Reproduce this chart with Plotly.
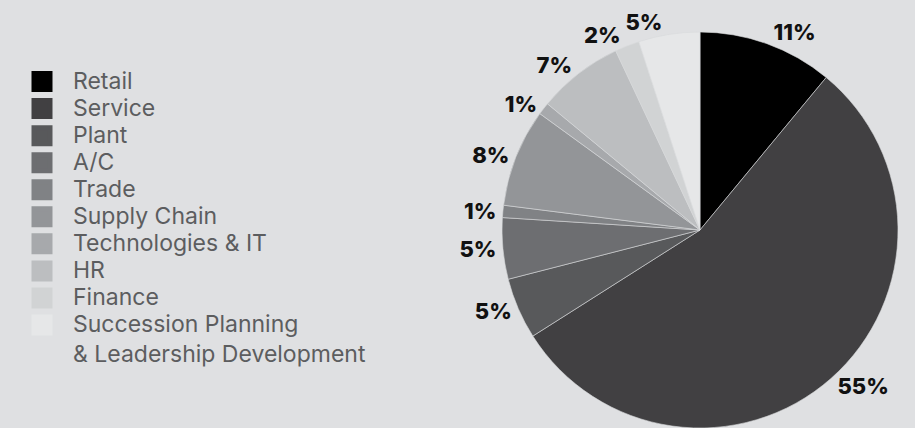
import plotly.graph_objects as go

# Headcount split by business area (percent of total)
categories = [
    "Retail", "Service", "Plant", "A/C", "Trade", "Supply Chain",
    "Technologies & IT", "HR", "Finance",
    "Succession Planning<br>& Leadership Development",
]
shares = [11, 55, 5, 5, 1, 8, 1, 7, 2, 5]
colors = [
    "#000000", "#414042", "#58595b", "#6d6e71", "#808285",
    "#939598", "#a7a9ac", "#bcbec0", "#d1d3d4", "#e6e7e8",
]

BG = "#dfe0e2"
W, H = 915, 428

pie_domain = dict(x=[(700 - 198) / W, (700 + 198) / W], y=[0, 396 / H])
label_font = dict(family="Inter", size=22, color="#111111", weight=800)

# The last slice's label sits right beside its neighbour, so it is drawn by a
# transparent copy of the pie to keep it out of plotly's label stacking.
main_pos = ["outside"] * (len(shares) - 1) + ["none"]
last_pos = ["none"] * (len(shares) - 1) + ["outside"]

fig = go.Figure()

fig.add_trace(go.Pie(
    labels=categories,
    values=shares,
    sort=False,
    direction="clockwise",
    rotation=0,
    marker=dict(colors=colors, line=dict(color="#d9dadc", width=0.6)),
    textposition=main_pos,
    texttemplate="%{value}%",
    outsidetextfont=label_font,
    showlegend=False,
    hoverinfo="label+value",
    automargin=False,
    domain=pie_domain,
))

fig.add_trace(go.Pie(
    labels=categories,
    values=shares,
    sort=False,
    direction="clockwise",
    rotation=0,
    marker=dict(colors=["rgba(0,0,0,0)"] * len(shares), line=dict(width=0)),
    textposition=last_pos,
    texttemplate="%{value}%",
    outsidetextfont=label_font,
    showlegend=False,
    hoverinfo="skip",
    automargin=False,
    domain=pie_domain,
))


def legend_name(text):
    # larger type than the legend row pitch; wrapped lines get a little extra lead
    lines = text.split("<br>")
    out = [f'<span style="font-size:23px">{lines[0]}</span>']
    for ln in lines[1:]:
        out.append(f'<span style="font-size:23px;baseline-shift:-6px">{ln}</span>')
    return "<br>".join(out)


# Legend swatches: one square-marker entry per category
for name, col in zip(categories, colors):
    fig.add_trace(go.Scatter(
        x=[None], y=[None], mode="markers",
        name=legend_name(name),
        marker=dict(symbol="square", size=16, color=col, line=dict(color=col, width=5)),
        showlegend=True,
    ))

fig.update_layout(
    width=W, height=H,
    paper_bgcolor=BG, plot_bgcolor=BG,
    margin=dict(l=0, r=0, t=0, b=0, autoexpand=False),
    xaxis=dict(visible=False), yaxis=dict(visible=False),
    legend=dict(
        x=11 / W, y=1 - 63 / H, xanchor="left", yanchor="top",
        itemwidth=52, valign="top",
        font=dict(family="Inter", size=18.5, color="#5c5d5f"),
        bgcolor="rgba(0,0,0,0)",
        itemclick=False, itemdoubleclick=False,
    ),
)

fig.write_html("out.html")
